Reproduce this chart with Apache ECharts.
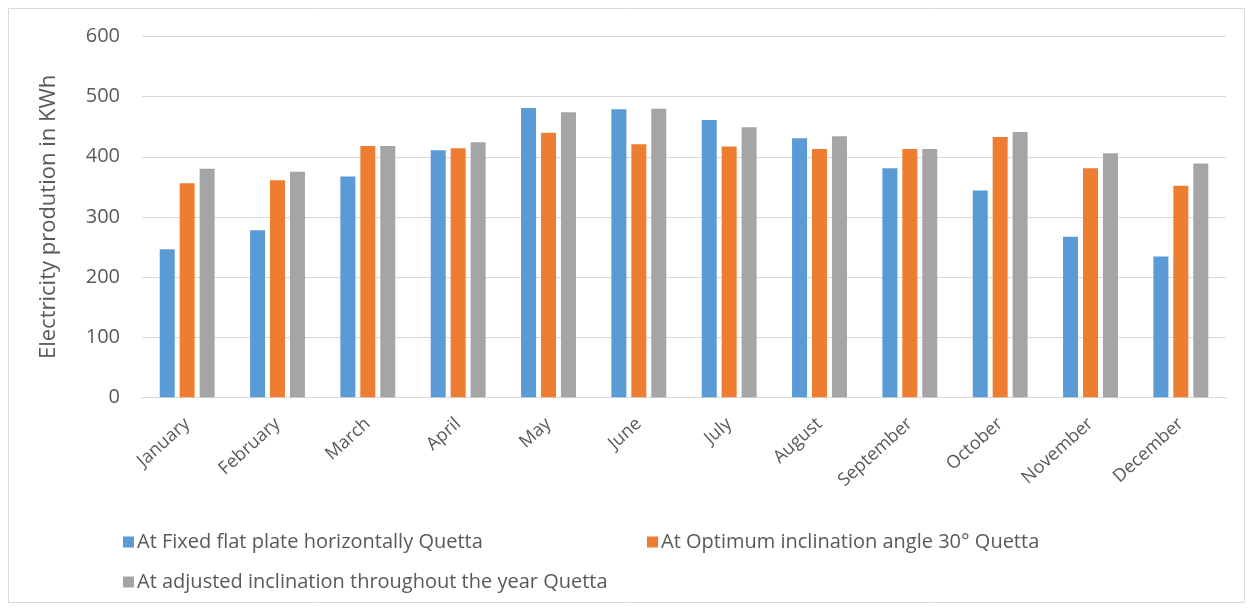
<!DOCTYPE html>
<html>
<head>
<meta charset="utf-8">
<script src="https://cdn.jsdelivr.net/npm/echarts@6/dist/echarts.min.js"></script>
<style>
html,body{margin:0;padding:0;background:#fff;}
#chart{width:1254px;height:609px;}
</style>
</head>
<body>
<div id="chart"></div>
<script>
const months = ['January','February','March','April','May','June','July','August','September','October','November','December'];
const seriesNames = ['At Fixed flat plate horizontally Quetta','At Optimum inclination angle 30° Quetta','At adjusted inclination throughout the year Quetta'];
const fixedFlat = [246, 278, 367, 411, 481, 479, 461, 431, 381, 344, 267, 234];
const optimum30 = [356, 361, 418, 414, 440, 421, 417, 413, 413, 433, 381, 352];
const adjusted = [380, 375, 418, 424, 474, 480, 449, 434, 413, 441, 406, 389];
const yTicks = [0, 100, 200, 300, 400, 500, 600];
const colors = ['#5B9BD5', '#ED7D31', '#A5A5A5'];

const font = 'Open Sans';
const textColor = '#595959';
const chart = echarts.init(document.getElementById('chart'));
const legendBase = {
  orient: 'horizontal', icon: 'rect', itemWidth: 11, itemHeight: 11, itemGap: 8,
  textStyle: {fontFamily: font, fontSize: 20, color: textColor, padding: [0, 0, 0, -2]}, selectedMode: false
};
chart.setOption({
  animation: false,
  backgroundColor: '#fff',
  color: colors,
  graphic: [{
    type: 'rect', shape: {x: 8.5, y: 8.5, width: 1236, height: 594},
    style: {fill: 'none', stroke: '#d9d9d9', lineWidth: 1}, silent: true
  }],
  grid: {left: 142, right: 28, top: 36.5, bottom: 211.7, containLabel: false},
  legend: [
    Object.assign({}, legendBase, {data: [seriesNames[0]], left: 118, top: 527}),
    Object.assign({}, legendBase, {data: [seriesNames[1]], left: 642, top: 527}),
    Object.assign({}, legendBase, {data: [seriesNames[2]], left: 118, top: 567})
  ],
  xAxis: {
    type: 'category', data: months,
    axisLine: {lineStyle: {color: '#d9d9d9'}},
    axisTick: {show: false},
    axisLabel: {rotate: 42, margin: 24, fontFamily: font, fontSize: 18, color: textColor, interval: 0}
  },
  yAxis: {
    type: 'value', min: yTicks[0], max: yTicks[yTicks.length - 1], interval: 100,
    name: 'Electricity prodution in KWh', nameLocation: 'middle', nameRotate: 90, nameGap: 82,
    nameTextStyle: {fontFamily: font, fontSize: 22, color: textColor},
    axisLine: {show: false}, axisTick: {show: false},
    axisLabel: {margin: 22, fontFamily: font, fontSize: 20, color: textColor},
    splitLine: {lineStyle: {color: '#d9d9d9', width: 1}}
  },
  series: [
    {name: seriesNames[0], type: 'bar', data: fixedFlat, barWidth: 15, barGap: '33%'},
    {name: seriesNames[1], type: 'bar', data: optimum30, barWidth: 15, barGap: '33%'},
    {name: seriesNames[2], type: 'bar', data: adjusted, barWidth: 15, barGap: '33%'}
  ]
});
</script>
</body>
</html>
